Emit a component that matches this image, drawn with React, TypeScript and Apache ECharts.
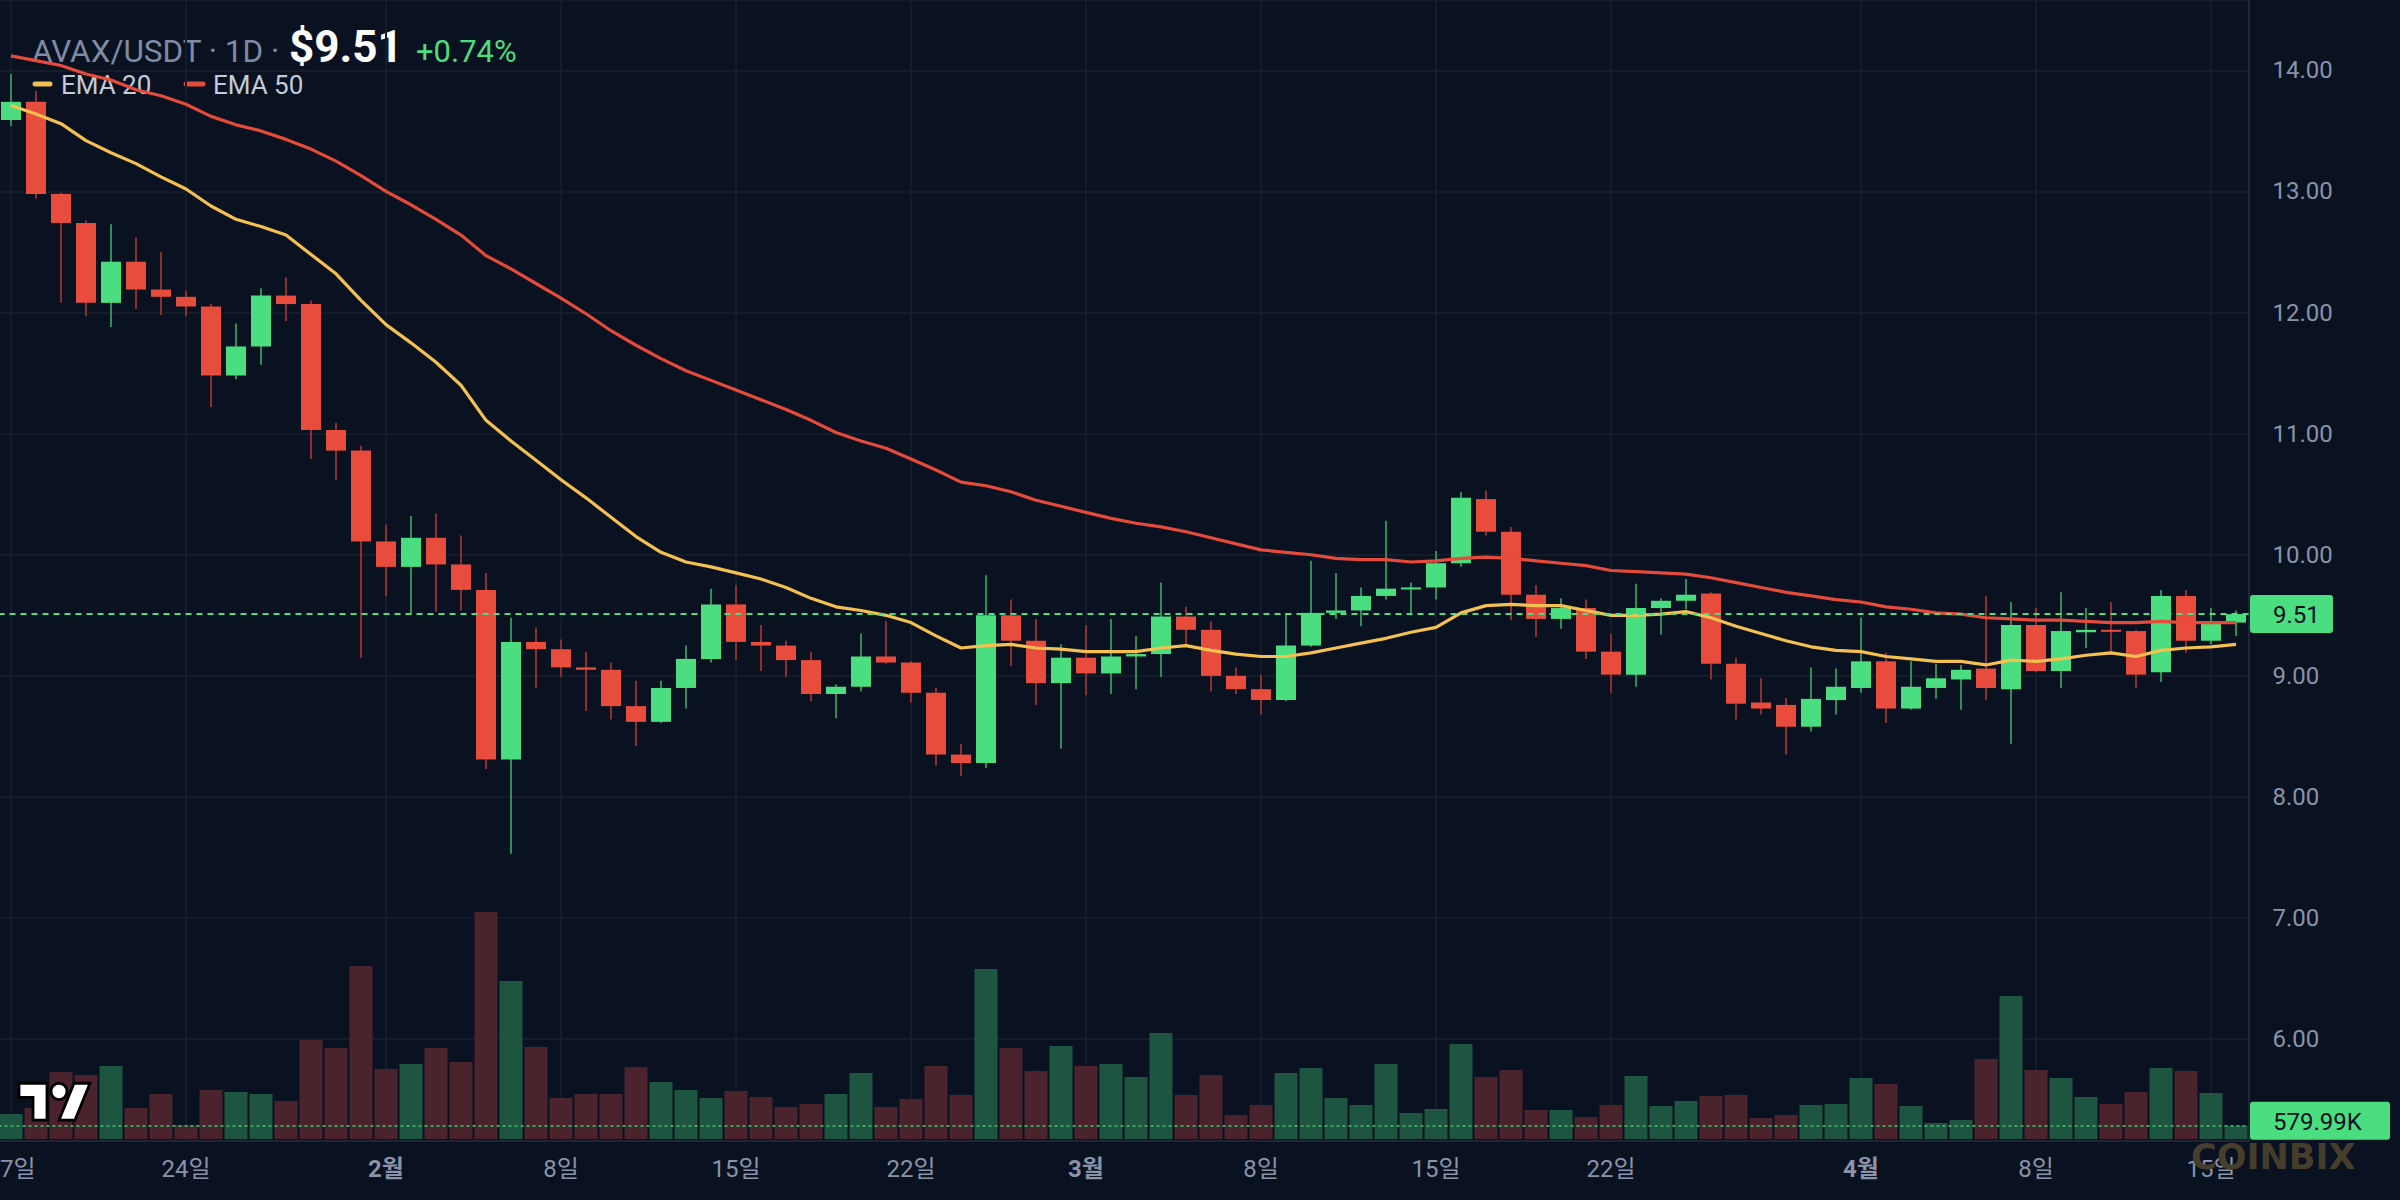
import React, { useEffect, useRef } from "react";
import * as echarts from "echarts";

// ---------- data ----------
const monthNames = ["01", "02", "03", "04"];
const monthStart = [17, 1, 1, 1];
const monthEnd = [31, 28, 31, 16];
const dates: string[] = [];
for (let m = 0; m < monthNames.length; m++) {
  for (let d = monthStart[m]; d <= monthEnd[m]; d++) dates.push(`${monthNames[m]}-${String(d).padStart(2, "0")}`);
}

const opens = [13.59, 13.74, 12.98, 12.74, 12.08, 12.42, 12.19, 12.13, 12.05, 11.48, 11.72, 12.14, 12.07, 11.03, 10.86, 10.11, 9.90, 10.14, 9.92, 9.71,
  8.31, 9.28, 9.22, 9.07, 9.05, 8.75, 8.62, 8.90, 9.14, 9.59, 9.28, 9.25, 9.13, 8.85, 8.91, 9.16, 9.11, 8.86, 8.35, 8.28,
  9.50, 9.29, 8.94, 9.15, 9.02, 9.16, 9.18, 9.49, 9.38, 9.00, 8.89, 8.80, 9.25, 9.52, 9.54, 9.66, 9.72, 9.73, 9.93, 10.46,
  10.19, 9.67, 9.47, 9.56, 9.20, 9.01, 9.56, 9.62, 9.68, 9.10, 8.78, 8.76, 8.58, 8.80, 8.90, 9.12, 8.73, 8.90, 8.97, 9.06,
  8.89, 9.42, 9.04, 9.36, 9.38, 9.37, 9.03, 9.66, 9.29, 9.44];
const highs = [13.97, 13.83, 12.99, 12.76, 12.73, 12.62, 12.50, 12.18, 12.07, 11.91, 12.20, 12.29, 12.10, 11.09, 10.90, 10.25, 10.32, 10.34, 10.16, 9.85,
  9.48, 9.40, 9.30, 9.20, 9.11, 8.96, 8.96, 9.25, 9.72, 9.75, 9.42, 9.29, 9.20, 8.93, 9.35, 9.45, 9.12, 8.90, 8.44, 9.83,
  9.63, 9.47, 9.26, 9.42, 9.47, 9.33, 9.77, 9.57, 9.45, 9.07, 9.01, 9.52, 9.95, 9.85, 9.73, 10.28, 9.77, 10.03, 10.52, 10.53,
  10.23, 9.75, 9.64, 9.63, 9.35, 9.76, 9.64, 9.80, 9.69, 9.15, 8.98, 8.82, 9.07, 9.06, 9.48, 9.19, 9.12, 9.10, 9.09, 9.66,
  9.61, 9.56, 9.69, 9.56, 9.61, 9.38, 9.71, 9.71, 9.56, 9.54];
const lows = [13.54, 12.94, 12.08, 11.97, 11.88, 12.03, 11.98, 11.97, 11.22, 11.45, 11.57, 11.93, 10.79, 10.62, 9.15, 9.66, 9.51, 9.53, 9.54, 8.23,
  7.53, 8.90, 8.99, 8.71, 8.64, 8.42, 8.61, 8.73, 9.11, 9.13, 9.04, 8.99, 8.79, 8.65, 8.87, 9.10, 8.78, 8.26, 8.17, 8.24,
  9.08, 8.76, 8.40, 8.84, 8.85, 8.89, 8.99, 9.25, 8.87, 8.85, 8.68, 8.79, 9.24, 9.47, 9.41, 9.63, 9.50, 9.63, 9.90, 10.16,
  9.46, 9.32, 9.39, 9.14, 8.86, 8.91, 9.34, 9.55, 8.97, 8.64, 8.68, 8.35, 8.54, 8.68, 8.86, 8.61, 8.72, 8.81, 8.72, 8.80,
  8.44, 9.03, 8.90, 9.23, 9.20, 8.90, 8.95, 9.19, 9.26, 9.33];
const closes = [13.74, 12.98, 12.74, 12.08, 12.42, 12.19, 12.13, 12.05, 11.48, 11.72, 12.14, 12.07, 11.03, 10.86, 10.11, 9.90, 10.14, 9.92, 9.71, 8.31,
  9.28, 9.22, 9.07, 9.05, 8.75, 8.62, 8.90, 9.14, 9.59, 9.28, 9.25, 9.13, 8.85, 8.91, 9.16, 9.11, 8.86, 8.35, 8.28, 9.50,
  9.29, 8.94, 9.15, 9.02, 9.16, 9.18, 9.49, 9.38, 9.00, 8.89, 8.80, 9.25, 9.52, 9.54, 9.66, 9.72, 9.73, 9.93, 10.47, 10.19,
  9.67, 9.47, 9.56, 9.20, 9.01, 9.56, 9.62, 9.67, 9.10, 8.77, 8.73, 8.58, 8.81, 8.91, 9.12, 8.73, 8.91, 8.98, 9.05, 8.90,
  9.42, 9.04, 9.37, 9.38, 9.37, 9.01, 9.66, 9.29, 9.44, 9.51];
const volumes = [1090, 1350, 2921, 2790, 3182, 1351, 1962, 610, 2136, 2049, 1962, 1656, 4315, 3967, 7541, 3051, 3269, 3967, 3356, 9895,
  6887, 4010, 1787, 1962, 1962, 3138, 2485, 2136, 1787, 2092, 1831, 1395, 1526, 1962, 2877, 1395, 1744, 3182, 1918, 7410,
  3967, 2964, 4054, 3182, 3269, 2703, 4621, 1918, 2790, 1046, 1482, 2877, 3095, 1787, 1482, 3269, 1133, 1308, 4141, 2703,
  3008, 1264, 1264, 959, 1482, 2746, 1438, 1656, 1874, 1918, 915, 1046, 1482, 1526, 2659, 2397, 1438, 697, 828, 3487,
  6233, 3008, 2659, 1831, 1526, 2049, 3095, 2964, 2005, 579.99];
const ema20 = [13.71, 13.64, 13.56, 13.42, 13.32, 13.23, 13.12, 13.02, 12.88, 12.77, 12.71, 12.64, 12.48, 12.32, 12.10, 11.90, 11.75, 11.59, 11.40, 11.11,
  10.94, 10.78, 10.62, 10.47, 10.31, 10.15, 10.02, 9.94, 9.90, 9.85, 9.80, 9.73, 9.64, 9.57, 9.54, 9.50, 9.44, 9.33, 9.23, 9.25,
  9.26, 9.23, 9.22, 9.20, 9.20, 9.20, 9.23, 9.25, 9.21, 9.18, 9.16, 9.16, 9.19, 9.23, 9.27, 9.31, 9.36, 9.40, 9.52, 9.58,
  9.59, 9.58, 9.58, 9.54, 9.50, 9.50, 9.51, 9.53, 9.48, 9.41, 9.35, 9.29, 9.24, 9.21, 9.20, 9.16, 9.14, 9.12, 9.12, 9.09,
  9.13, 9.12, 9.14, 9.17, 9.19, 9.16, 9.21, 9.23, 9.24, 9.26];
const ema50 = [14.12, 14.08, 14.04, 13.97, 13.92, 13.84, 13.79, 13.72, 13.62, 13.55, 13.50, 13.43, 13.35, 13.25, 13.13, 13.00, 12.89, 12.77, 12.64, 12.47,
  12.36, 12.24, 12.12, 11.99, 11.85, 11.73, 11.62, 11.52, 11.44, 11.36, 11.28, 11.20, 11.11, 11.01, 10.94, 10.88, 10.79, 10.70, 10.60, 10.57,
  10.52, 10.45, 10.40, 10.35, 10.30, 10.26, 10.23, 10.19, 10.14, 10.09, 10.04, 10.02, 10.00, 9.97, 9.96, 9.96, 9.94, 9.95, 9.97, 9.98,
  9.97, 9.95, 9.93, 9.91, 9.87, 9.86, 9.85, 9.84, 9.81, 9.77, 9.73, 9.69, 9.66, 9.63, 9.61, 9.57, 9.55, 9.52, 9.51, 9.48,
  9.47, 9.46, 9.46, 9.45, 9.44, 9.44, 9.45, 9.44, 9.44, 9.44];

const tickIndex = [0, 7, 15, 22, 29, 36, 43, 50, 57, 64, 74, 81, 88];
const tickText = ["17일", "24일", "2월", "8일", "15일", "22일", "3월", "8일", "15일", "22일", "4월", "8일", "15일"];
const monthTicks = ["2월", "3월", "4월"];

const priceMin = 5.159;
const priceMax = 14.581;
const volumeMax = 13080;
const lastPrice = 9.51;
const lastVolume = 579.99;
const lastVolumeText = "579.99K";
const titleText = "AVAX/USDT · 1D ·";
const priceText = "$9.51";
const changeText = "+0.74%";
const legendNames = ["EMA 20", "EMA 50"];
const watermark = "COINBIX";

// ---------- style ----------
const BG = "#0a1121";
const GRID = "#141c2c";
const BORDER = "#1e2637";
const AXIS_TEXT = "#8993a9";
const UP = "#4ade80";
const DOWN = "#e74c3c";
const UP_WICK = "#2f8d57";
const DOWN_WICK = "#8e2f2f";
const VOL_UP = "#1e5540";
const VOL_DOWN = "#4a232c";
const EMA20_C = "#f4c150";
const EMA50_C = "#e64a3b";
const FONT = "Roboto, 'Noto Sans CJK KR', sans-serif";

const TV_PATH = "M14 22H7V11H0V4h14v18zM28 22h-8l7.5-18h8L28 22zM16 8a4 4 0 1 0 8 0a4 4 0 1 0 -8 0z";
let registered = false;
function ensureShapes() {
  if (registered) return;
  echarts.graphic.registerShape("tvLogo", echarts.graphic.extendPath(TV_PATH, {}) as any);
  registered = true;
}

export default function App() {
  const ref = useRef<HTMLDivElement>(null);
  useEffect(() => {
    if (!ref.current) return;
    ensureShapes();
    const chart = echarts.init(ref.current, null, { renderer: "svg" });
    const candleData = dates.map((_, i) => [i, opens[i], closes[i], lows[i], highs[i]]);
    const volData = volumes.map((v, i) => ({
      value: v,
      itemStyle: { color: closes[i] >= opens[i] ? VOL_UP : VOL_DOWN },
    }));

    const option: any = {
      animation: false,
      backgroundColor: BG,
      grid: [
        { left: -1.5, right: 151.5, top: 0, bottom: 59, outerBoundsMode: "none", containLabel: false },
        { left: -1.5, right: 151.5, top: 839, bottom: 61, outerBoundsMode: "none", containLabel: false },
      ],
      xAxis: [
        {
          type: "category",
          gridIndex: 0,
          data: dates,
          boundaryGap: true,
          axisTick: { show: false },
          axisLine: { show: true, lineStyle: { color: BORDER, width: 2 } },
          splitLine: { show: false },
          axisLabel: {
            interval: (idx: number) => tickIndex.includes(idx),
            formatter: (_v: string, idx: number) => {
              const k = tickIndex.indexOf(idx);
              if (k < 0) return "";
              const t = tickText[k];
              return monthTicks.includes(t) ? `{m|${t}}` : `{d|${t}}`;
            },
            margin: 16,
            rich: {
              d: { color: AXIS_TEXT, fontSize: 24, fontFamily: FONT },
              m: { color: AXIS_TEXT, fontSize: 24, fontFamily: FONT, fontWeight: "bold" },
            },
          },
        },
        { type: "category", gridIndex: 1, data: dates, show: false, boundaryGap: true },
      ],
      yAxis: [
        {
          type: "value",
          gridIndex: 0,
          position: "right",
          min: priceMin,
          max: priceMax,
          splitNumber: 10,
          minInterval: 1,
          maxInterval: 1,
          axisLine: { show: true, lineStyle: { color: BORDER, width: 2 } },
          axisTick: { show: false },
          splitLine: { show: true, lineStyle: { color: GRID, width: 2 } },
          axisLabel: {
            showMinLabel: false,
            showMaxLabel: false,
            formatter: (v: number) => v.toFixed(2),
            color: AXIS_TEXT,
            fontSize: 24,
            fontFamily: FONT,
            margin: 24,
          },
        },
        { type: "value", gridIndex: 1, min: 0, max: volumeMax, show: false },
      ],
      series: [
        {
          name: "grid-v",
          type: "line",
          xAxisIndex: 0,
          yAxisIndex: 0,
          data: [],
          silent: true,
          markLine: {
            z: 1,
            silent: true,
            symbol: ["none", "none"],
            label: { show: false },
            lineStyle: { color: GRID, width: 2, type: "solid" },
            data: tickIndex.map((i) => ({ xAxis: i })),
          },
        },
        {
          name: "volume",
          type: "bar",
          xAxisIndex: 1,
          yAxisIndex: 1,
          barWidth: 23,
          data: volData,
          z: 2,
          markLine: {
            z: 4,
            silent: true,
            symbol: ["none", "none"],
            label: { show: false },
            lineStyle: { color: "#38a462", width: 2, type: [3, 3] },
            data: [{ yAxis: lastVolume }],
          },
        },
        {
          name: "candles",
          type: "custom",
          xAxisIndex: 0,
          yAxisIndex: 0,
          data: candleData,
          encode: { x: 0, y: [1, 2, 3, 4] },
          z: 3,
          renderItem: (_params: any, api: any) => {
            const idx = api.value(0);
            const o = api.value(1);
            const c = api.value(2);
            const l = api.value(3);
            const h = api.value(4);
            const pO = api.coord([idx, o]);
            const pC = api.coord([idx, c]);
            const pL = api.coord([idx, l]);
            const pH = api.coord([idx, h]);
            const up = c >= o;
            const x = Math.round(pO[0]);
            const w = 20;
            const top = Math.min(pO[1], pC[1]);
            const bot = Math.max(pO[1], pC[1]);
            const bh = Math.max(bot - top, 2);
            return {
              type: "group",
              children: [
                {
                  type: "line",
                  shape: { x1: x, y1: pH[1], x2: x, y2: pL[1] },
                  style: { stroke: up ? UP_WICK : DOWN_WICK, lineWidth: 2 },
                },
                {
                  type: "rect",
                  shape: { x: x - w / 2, y: top, width: w, height: bh },
                  style: { fill: up ? UP : DOWN },
                },
              ],
            };
          },
        },
        {
          name: "EMA 50",
          type: "line",
          xAxisIndex: 0,
          yAxisIndex: 0,
          data: ema50,
          symbol: "none",
          z: 4,
          lineStyle: { color: EMA50_C, width: 3.2 },
        },
        {
          name: "EMA 20",
          type: "line",
          xAxisIndex: 0,
          yAxisIndex: 0,
          data: ema20,
          symbol: "none",
          z: 4,
          lineStyle: { color: EMA20_C, width: 3.2 },
          markLine: {
            z: 6,
            silent: true,
            symbol: ["none", "none"],
            label: { show: false },
            lineStyle: { color: UP, width: 2, type: [6, 5] },
            data: [{ yAxis: lastPrice }],
          },
        },
      ],
    };
    chart.setOption(option);

    const yP = chart.convertToPixel({ yAxisIndex: 0 }, lastPrice) as number;
    const yV = chart.convertToPixel({ yAxisIndex: 1 }, lastVolume) as number;

    chart.setOption({
      graphic: [
        // title
        { type: "text", x: 32, y: 51, style: { text: titleText, fill: "#7f8ba4", font: `31.5px ${FONT}`, verticalAlign: "middle" } },
        { type: "text", x: 289, y: 47, style: { text: priceText, fill: "#ffffff", font: `bold 44px ${FONT}`, verticalAlign: "middle" } },
        { type: "text", x: 416, y: 51, style: { text: changeText, fill: UP, font: `31px ${FONT}`, verticalAlign: "middle" } },
        // legend
        { type: "line", shape: { x1: 35, y1: 84, x2: 50, y2: 84 }, style: { stroke: EMA20_C, lineWidth: 5, lineCap: "round" } },
        { type: "text", x: 61, y: 85, style: { text: legendNames[0], fill: "#c3cad8", font: `26px ${FONT}`, verticalAlign: "middle" } },
        { type: "line", shape: { x1: 186, y1: 84, x2: 203, y2: 84 }, style: { stroke: EMA50_C, lineWidth: 5, lineCap: "round" } },
        { type: "text", x: 213, y: 85, style: { text: legendNames[1], fill: "#c3cad8", font: `26px ${FONT}`, verticalAlign: "middle" } },
        // price label
        { type: "rect", z: 100, shape: { x: 2250, y: yP - 19, width: 83, height: 38, r: 3 }, style: { fill: UP } },
        { type: "text", z: 101, x: 2273, y: yP + 1, style: { text: lastPrice.toFixed(2), fill: "#07101e", font: `24px ${FONT}`, verticalAlign: "middle" } },
        // volume label
        { type: "rect", z: 100, shape: { x: 2250, y: yV - 24, width: 140, height: 38, r: 3 }, style: { fill: UP } },
        { type: "text", z: 101, x: 2273, y: yV - 4, style: { text: lastVolumeText, fill: "#07101e", font: `24px ${FONT}`, verticalAlign: "middle" } },
        // watermark
        { type: "text", z: 50, x: 2191, y: 1157, style: { text: watermark, fill: "#463e2d", font: `bold 35px 'DejaVu Sans', sans-serif`, verticalAlign: "middle" } },
        // TradingView logo
        { type: "tvLogo", z: 100, x: 19, y: 1075, scaleX: 2, scaleY: 2.05, style: { fill: "#ffffff", stroke: "#000000", lineWidth: 1.4 } },
      ],
    });

    return () => chart.dispose();
  }, []);

  return <div ref={ref} style={{ position: "fixed", left: 0, top: 0, width: 2400, height: 1200 }} />;
}
